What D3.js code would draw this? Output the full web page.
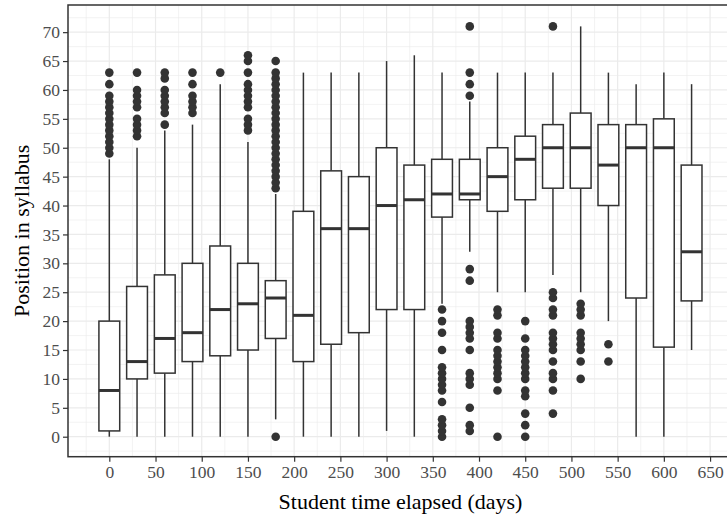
<!DOCTYPE html>
<html>
<head>
<meta charset="utf-8">
<script src="https://cdn.jsdelivr.net/npm/d3@7"></script>
<style>
  body { margin: 0; background: #fff; }
  svg text { font-family: "Liberation Serif", "DejaVu Serif", serif; }
</style>
</head>
<body>
<div id="chart"></div>
<script>
// one box per 30-day bin
var bins = [0, 30, 60, 90, 120, 150, 180, 210, 240, 270, 300, 330, 360, 390, 420, 450, 480, 510, 540, 570, 600, 630];
var whiskLo = [0, 0, 0, 0, 0, 0, 3, 0, 0, 0, 1, 0, 23, 32, 25, 25, 28, 25, 20, 0, 0, 15];
var q1 = [1, 10, 11, 13, 14, 15, 17, 13, 16, 18, 22, 22, 38, 41, 39, 41, 43, 43, 40, 24, 15.5, 23.5];
var medians = [8, 13, 17, 18, 22, 23, 24, 21, 36, 36, 40, 41, 42, 42, 45, 48, 50, 50, 47, 50, 50, 32];
var q3 = [20, 26, 28, 30, 33, 30, 27, 39, 46, 45, 50, 47, 48, 48, 50, 52, 54, 56, 54, 54, 55, 47];
var whiskHi = [48, 50, 53, 54, 61, 51, 42, 63, 63, 63, 65, 66, 63, 58, 63, 63, 63, 71, 63, 61, 63, 61];
var outliers = [
  [49, 50, 51, 52, 53, 54, 55, 56, 57, 58, 59, 61, 63],
  [52, 53, 54, 55, 57, 58, 59, 60, 63],
  [54, 56, 57, 58, 59, 60, 62, 63],
  [56, 57, 58, 59, 61, 63],
  [63],
  [53, 54, 55, 57, 58, 59, 60, 61, 63, 65, 66],
  [0, 43, 44, 45, 46, 47, 48, 49, 50, 51, 52, 53, 54, 55, 56, 57, 58, 59, 60, 61, 62, 63, 65],
  [], [], [], [], [],
  [0, 1, 2, 3, 6, 8, 9, 10, 11, 12, 15, 18, 20, 22],
  [1, 2, 5, 9, 10, 11, 15, 17, 18, 19, 20, 27, 29, 59, 61, 63, 71],
  [0, 8, 10, 11, 12, 13, 14, 15, 17, 18, 21, 22],
  [0, 2, 4, 7, 8, 10, 11, 12, 13, 14, 15, 17, 20],
  [4, 8, 10, 11, 13, 15, 16, 17, 18, 21, 22, 24, 25, 71],
  [10, 13, 15, 16, 17, 18, 21, 22, 23],
  [13, 16],
  [], [], []
];
var xTicks = [0, 50, 100, 150, 200, 250, 300, 350, 400, 450, 500, 550, 600, 650];
var yTicks = [0, 5, 10, 15, 20, 25, 30, 35, 40, 45, 50, 55, 60, 65, 70];

var width = 727;
var height = 514;
var panel = { left: 68, right: 728, top: 5, bottom: 456.7 };
var boxWidth = 22.5;
var ink = "#333333";

var x = d3.scaleLinear().domain([-44.7, 669.4]).range([panel.left, panel.right]);
var y = d3.scaleLinear().domain([-3.46, 74.7]).range([panel.bottom, panel.top]);

var svg = d3.select("#chart").append("svg")
    .attr("width", width)
    .attr("height", height);

// grid
var xMinor = d3.range(-25, 670, 50);
var yMinor = d3.range(-2.5, 75, 5);
var grid = svg.append("g");
grid.selectAll(".xminor").data(xMinor).enter().append("line")
    .attr("x1", d => x(d)).attr("x2", d => x(d))
    .attr("y1", panel.top).attr("y2", panel.bottom)
    .attr("stroke", "#ebebeb").attr("stroke-width", 0.6);
grid.selectAll(".yminor").data(yMinor).enter().append("line")
    .attr("x1", panel.left).attr("x2", panel.right)
    .attr("y1", d => y(d)).attr("y2", d => y(d))
    .attr("stroke", "#ebebeb").attr("stroke-width", 0.6);
grid.selectAll(".xmajor").data(xTicks).enter().append("line")
    .attr("x1", d => x(d)).attr("x2", d => x(d))
    .attr("y1", panel.top).attr("y2", panel.bottom)
    .attr("stroke", "#ebebeb").attr("stroke-width", 1.2);
grid.selectAll(".ymajor").data(yTicks).enter().append("line")
    .attr("x1", panel.left).attr("x2", panel.right)
    .attr("y1", d => y(d)).attr("y2", d => y(d))
    .attr("stroke", "#ebebeb").attr("stroke-width", 1.2);

// boxes
var boxes = svg.append("g").selectAll("g")
    .data(bins.map((b, i) => ({
      x: b, lo: whiskLo[i], q1: q1[i], med: medians[i], q3: q3[i], hi: whiskHi[i], out: outliers[i]
    })))
    .enter().append("g");

boxes.append("line")
    .attr("x1", d => x(d.x)).attr("x2", d => x(d.x))
    .attr("y1", d => y(d.q3)).attr("y2", d => y(d.hi))
    .attr("stroke", ink).attr("stroke-width", 1.5);
boxes.append("line")
    .attr("x1", d => x(d.x)).attr("x2", d => x(d.x))
    .attr("y1", d => y(d.q1)).attr("y2", d => y(d.lo))
    .attr("stroke", ink).attr("stroke-width", 1.5);
boxes.append("rect")
    .attr("x", d => x(d.x - boxWidth / 2))
    .attr("width", x(boxWidth) - x(0))
    .attr("y", d => y(d.q3))
    .attr("height", d => y(d.q1) - y(d.q3))
    .attr("fill", "white")
    .attr("stroke", ink).attr("stroke-width", 1.5);
boxes.append("line")
    .attr("x1", d => x(d.x - boxWidth / 2)).attr("x2", d => x(d.x + boxWidth / 2))
    .attr("y1", d => y(d.med)).attr("y2", d => y(d.med))
    .attr("stroke", ink).attr("stroke-width", 3);

boxes.selectAll("circle")
    .data(d => d.out.map(v => ({ x: d.x, v: v })))
    .enter().append("circle")
    .attr("cx", d => x(d.x))
    .attr("cy", d => y(d.v))
    .attr("r", 4.3)
    .attr("fill", ink);

// panel border
svg.append("rect")
    .attr("x", panel.left).attr("y", panel.top)
    .attr("width", panel.right - panel.left).attr("height", panel.bottom - panel.top)
    .attr("fill", "none").attr("stroke", ink).attr("stroke-width", 1.5);

// axes
var xAxis = svg.append("g")
    .attr("transform", "translate(0," + panel.bottom + ")")
    .call(d3.axisBottom(x).tickValues(xTicks).tickSize(5).tickPadding(4));
var yAxis = svg.append("g")
    .attr("transform", "translate(" + panel.left + ",0)")
    .call(d3.axisLeft(y).tickValues(yTicks).tickSize(5).tickPadding(3));
[xAxis, yAxis].forEach(function (a) {
  a.select(".domain").remove();
  a.selectAll(".tick line").attr("stroke", ink).attr("stroke-width", 1.2);
  a.selectAll(".tick text")
      .attr("fill", "#4d4d4d")
      .style("font-size", "17.5px")
      .style("font-family", "Liberation Serif, serif");
});

svg.append("text")
    .attr("x", (panel.left + width) / 2 + 3)
    .attr("y", 509)
    .attr("text-anchor", "middle")
    .style("font-size", "22px")
    .text("Student time elapsed (days)");

svg.append("text")
    .attr("transform", "translate(29," + ((panel.top + panel.bottom) / 2) + ") rotate(-90)")
    .attr("text-anchor", "middle")
    .style("font-size", "22px")
    .text("Position in syllabus");
</script>
</body>
</html>
